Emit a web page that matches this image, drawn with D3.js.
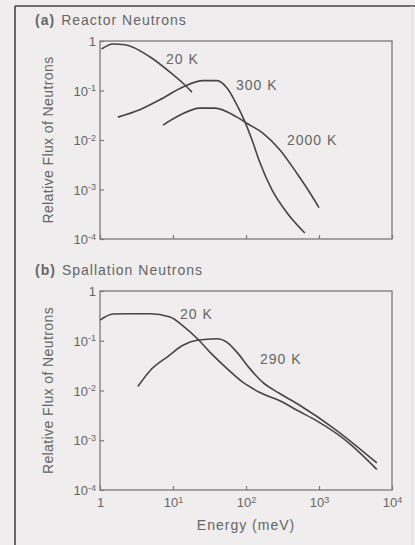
<!DOCTYPE html>
<html lang="en">
<head>
  <meta charset="utf-8">
  <title>Neutron flux spectra</title>
  <script src="https://cdnjs.cloudflare.com/ajax/libs/d3/7.8.5/d3.min.js"></script>
  <style>
    body { margin: 0; background: #efeded; }
    svg { display: block; }
    text { font-family: "Liberation Sans", Arial, sans-serif; fill: #666; }
    .curve { fill: none; stroke: #454545; stroke-width: 1.6; }
    .box { fill: none; stroke: #7a7a7a; stroke-width: 1.3; }
    .axis path { display: none; }
    .axis line { stroke: #7a7a7a; stroke-width: 1.2; }
    .axis text { font-size: 13px; fill: #666; }
  </style>
</head>
<body>
<svg id="svg" width="415" height="545"></svg>
<script>
// ---- data: [energy meV, relative flux] ----
var reactor20K = [[1.05, 0.69], [1.5, 0.87], [2.2, 0.84], [4.8, 0.48], [9.1, 0.235], [13.7, 0.14], [18.2, 0.093]];
var reactor300K = [[1.76, 0.029], [3.5, 0.041], [6.6, 0.065], [13.7, 0.118], [25.8, 0.158], [40, 0.158],
  [55, 0.112], [75, 0.051], [97, 0.023], [121, 0.010], [155, 0.0035], [227, 0.00098], [364, 0.00034], [640, 0.000132]];
var reactor2000K = [[7.3, 0.020], [12.5, 0.032], [23.4, 0.044], [37.6, 0.044], [75, 0.029], [107, 0.021],
  [170, 0.0138], [292, 0.0063], [500, 0.0021], [753, 0.00085], [1000, 0.00043]];

var spall20K = [[1, 0.26], [1.5, 0.345], [2.8, 0.35], [4.8, 0.35], [9.1, 0.3], [13.7, 0.2], [21.3, 0.112],
  [32, 0.059], [55, 0.0275], [91, 0.0145], [155, 0.0091], [320, 0.0058], [500, 0.0040], [935, 0.00245], [2650, 0.00085], [6200, 0.00026]];
var spall290K = [[3.3, 0.012], [4.84, 0.025], [8.3, 0.047], [13.7, 0.081], [21.3, 0.102], [40, 0.110], [55, 0.093],
  [75, 0.059], [113, 0.0275], [170, 0.0145], [290, 0.0087], [550, 0.0050], [1560, 0.00178], [6200, 0.00035]];

var yTicks = [1e-4, 1e-3, 1e-2, 1e-1, 1];
var xTicks = [1, 10, 100, 1000, 10000];
var yTickLabels = ["10", "10", "10", "10", "1"];
var yTickExp = ["-4", "-3", "-2", "-1", ""];
var xTickLabels = ["1", "10", "10", "10", "10"];
var xTickExp = ["", "1", "2", "3", "4"];

var panels = [
  { tag: "(a)", title: "Reactor Neutrons", top: 41, bottom: 239, xLabels: false,
    series: [reactor20K, reactor300K, reactor2000K],
    labels: [["20 K", 166, 64], ["300 K", 236, 90], ["2000 K", 287, 145]] },
  { tag: "(b)", title: "Spallation Neutrons", top: 291, bottom: 490, xLabels: true,
    series: [spall20K, spall290K],
    labels: [["20 K", 180, 319], ["290 K", 260, 364]] }
];

var svg = d3.select("#svg");

// outer frame
svg.append("line").attr("x1", 15).attr("y1", 6).attr("x2", 415).attr("y2", 6)
  .attr("stroke", "#444").attr("stroke-width", 1.6);
svg.append("line").attr("x1", 15).attr("y1", 6).attr("x2", 15).attr("y2", 545)
  .attr("stroke", "#444").attr("stroke-width", 1.6);
svg.append("line").attr("x1", 412).attr("y1", 6).attr("x2", 412).attr("y2", 545)
  .attr("stroke", "#ddd").attr("stroke-width", 1);

var x = d3.scaleLog().domain([1, 1e4]).range([100, 392]);

panels.forEach(function (p) {
  var y = d3.scaleLog().domain([1e-4, 1]).range([p.bottom, p.top]);
  var g = svg.append("g");

  // y axis (ticks inside)
  var yAx = g.append("g").attr("class", "axis")
    .attr("transform", "translate(100,0)")
    .call(d3.axisLeft(y).tickValues(yTicks).tickSize(-4).tickPadding(4).tickFormat(""));
  yAx.selectAll(".tick text").each(function (d, i) {
    var t = d3.select(this).attr("dy", "0.35em");
    t.append("tspan").text(yTickLabels[i]);
    if (yTickExp[i]) t.append("tspan").attr("dy", "-0.5em").attr("font-size", "9px").text(yTickExp[i]);
  });

  // x axis (ticks inside)
  var xAx = g.append("g").attr("class", "axis")
    .attr("transform", "translate(0," + p.bottom + ")")
    .call(d3.axisBottom(x).tickValues(xTicks).tickSize(-4).tickPadding(8).tickFormat(""));
  if (p.xLabels) {
    xAx.selectAll(".tick text").each(function (d, i) {
      var t = d3.select(this).attr("dy", "0.71em");
      t.append("tspan").text(xTickLabels[i]);
      if (xTickExp[i]) t.append("tspan").attr("dy", "-0.5em").attr("font-size", "9px").text(xTickExp[i]);
    });
  }

  g.append("rect").attr("class", "box")
    .attr("x", 100).attr("y", p.top).attr("width", 292).attr("height", p.bottom - p.top);

  var line = d3.line()
    .x(function (d) { return x(d[0]); })
    .y(function (d) { return y(d[1]); })
    .curve(d3.curveMonotoneX);

  p.series.forEach(function (s) {
    g.append("path").datum(s).attr("class", "curve").attr("d", line);
  });

  p.labels.forEach(function (l) {
    g.append("text").attr("x", l[1]).attr("y", l[2]).attr("font-size", "14px")
      .attr("letter-spacing", "1px").text(l[0]);
  });

  // panel title
  var tt = g.append("text").attr("x", 35).attr("y", p.top - 16).attr("font-size", "14px")
    .attr("letter-spacing", "1px");
  tt.append("tspan").attr("font-weight", "bold").text(p.tag);
  tt.append("tspan").attr("dx", 6).text(p.title);

  // y axis title
  g.append("text")
    .attr("transform", "translate(53," + ((p.top + p.bottom) / 2) + ") rotate(-90)")
    .attr("text-anchor", "middle").attr("font-size", "14px").attr("letter-spacing", "0.4px")
    .text("Relative Flux of Neutrons");
});

svg.append("text").attr("x", 246).attr("y", 530).attr("text-anchor", "middle")
  .attr("font-size", "14px").attr("letter-spacing", "1px").text("Energy (meV)");
</script>
</body>
</html>
